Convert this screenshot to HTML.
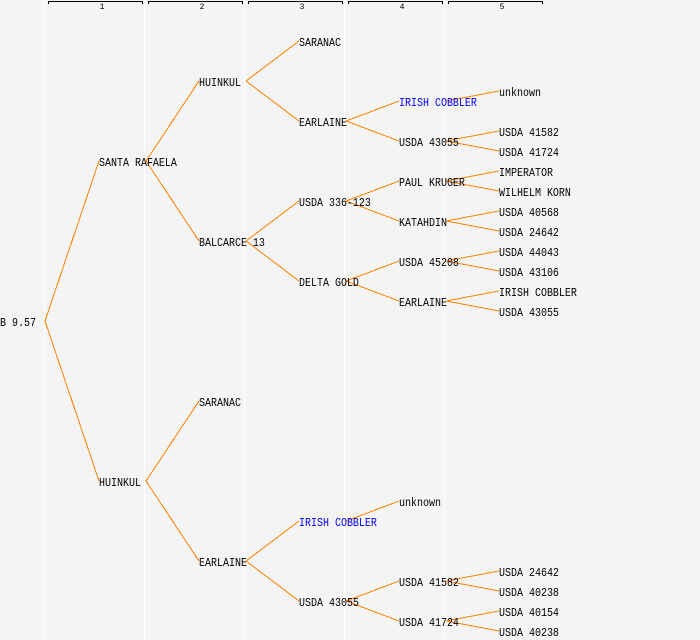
<!DOCTYPE html>
<html><head><meta charset="utf-8"><style>
html,body{margin:0;padding:0;background:#f4f4f4}
svg{display:block}
text{font-family:"Liberation Mono",monospace;font-size:12px;fill:#000}
.n{font-size:8px}
.b{fill:#00f}
</style></head><body>
<svg width="700" height="640" viewBox="0 0 700 640" xmlns="http://www.w3.org/2000/svg">
<rect width="700" height="640" fill="#f4f4f4"/>
<g stroke="#fff" stroke-width="1" shape-rendering="crispEdges">
<path d="M44.5 0V640M144.5 0V640M244.5 0V640M344.5 0V640M444.5 0V640"/>
</g>
<g stroke="#000" fill="none" shape-rendering="crispEdges">
<path d="M48.5 4V1.5H142.5V4M148.5 4V1.5H242.5V4M248.5 4V1.5H342.5V4M348.5 4V1.5H442.5V4M448.5 4V1.5H542.5V4"/>
</g>
<g text-anchor="middle">
<text class="n" x="102" y="9">1</text><text class="n" x="202" y="9">2</text><text class="n" x="302" y="9">3</text><text class="n" x="402" y="9">4</text><text class="n" x="502" y="9">5</text>
</g>
<g stroke="#ff8000" stroke-width="1" fill="none" shape-rendering="crispEdges">
<path d="M45 321L99 161M45 321L99 481"/>
<path d="M146 161L199 81M146 161L199 241M146 481L199 401M146 481L199 561"/>
<path d="M246 81L299 41M246 81L299 121M246 241L299 201M246 241L299 281M246 561L299 521M246 561L299 601"/>
<path d="M346 121L399 101M346 121L399 141M346 201L399 181M346 201L399 221M346 281L399 261M346 281L399 301M346 521L399 501M346 601L399 581M346 601L399 621"/>
<path d="M446 101L499 91M446 141L499 131M446 141L499 151M446 181L499 171M446 181L499 191M446 221L499 211M446 221L499 231M446 261L499 251M446 261L499 271M446 301L499 291M446 301L499 311M446 581L499 571M446 581L499 591M446 621L499 611M446 621L499 631"/>
</g>
<g transform="scale(.83333 1)">
<text x="0" y="326">B 9.57</text>
<text x="118.8" y="166">SANTA RAFAELA</text>
<text x="118.8" y="486">HUINKUL</text>
<text x="238.8" y="86">HUINKUL</text>
<text x="238.8" y="246">BALCARCE 13</text>
<text x="238.8" y="406">SARANAC</text>
<text x="238.8" y="566">EARLAINE</text>
<text x="358.8" y="46">SARANAC</text>
<text x="358.8" y="126">EARLAINE</text>
<text x="358.8" y="206">USDA 336-123</text>
<text x="358.8" y="286">DELTA GOLD</text>
<text class="b" x="358.8" y="526">IRISH COBBLER</text>
<text x="358.8" y="606">USDA 43055</text>
<text class="b" x="478.8" y="106">IRISH COBBLER</text>
<text x="478.8" y="146">USDA 43055</text>
<text x="478.8" y="186">PAUL KRUGER</text>
<text x="478.8" y="226">KATAHDIN</text>
<text x="478.8" y="266">USDA 45208</text>
<text x="478.8" y="306">EARLAINE</text>
<text x="478.8" y="506">unknown</text>
<text x="478.8" y="586">USDA 41582</text>
<text x="478.8" y="626">USDA 41724</text>
<text x="598.8" y="96">unknown</text>
<text x="598.8" y="136">USDA 41582</text>
<text x="598.8" y="156">USDA 41724</text>
<text x="598.8" y="176">IMPERATOR</text>
<text x="598.8" y="196">WILHELM KORN</text>
<text x="598.8" y="216">USDA 40568</text>
<text x="598.8" y="236">USDA 24642</text>
<text x="598.8" y="256">USDA 44043</text>
<text x="598.8" y="276">USDA 43106</text>
<text x="598.8" y="296">IRISH COBBLER</text>
<text x="598.8" y="316">USDA 43055</text>
<text x="598.8" y="576">USDA 24642</text>
<text x="598.8" y="596">USDA 40238</text>
<text x="598.8" y="616">USDA 40154</text>
<text x="598.8" y="636">USDA 40238</text>
</g>
</svg>
</body></html>
